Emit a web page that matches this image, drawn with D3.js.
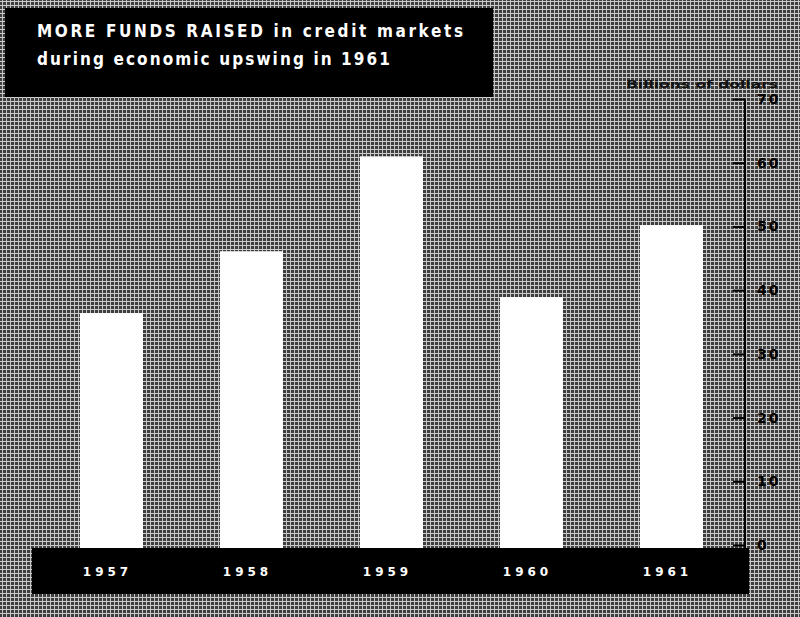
<!DOCTYPE html>
<html><head><meta charset="utf-8">
<script src="https://cdn.jsdelivr.net/npm/d3@7"></script>
<style>body{margin:0;background:#fff}svg{display:block}</style>
</head><body>
<script>
const years = ["1957","1958","1959","1960","1961"];
const funds = [36.4, 46.1, 61.0, 38.9, 50.2];
const yTicks = [0,10,20,30,40,50,60,70];
const titleLines = ["MORE FUNDS RAISED in credit markets", "during economic upswing in 1961"];
const unitLabel = "Billions of dollars";

const W = 800, H = 617;
const svg = d3.select("body").append("svg").attr("width", W).attr("height", H);

// halftone-like background pattern
const defs = svg.append("defs");
const pat = defs.append("pattern").attr("id","ht").attr("width",4).attr("height",4).attr("patternUnits","userSpaceOnUse");
pat.append("rect").attr("width",4).attr("height",4).attr("fill","#3e3e3e");
pat.append("rect").attr("x",0).attr("y",1).attr("width",4).attr("height",1).attr("fill","#cfcfcf");
pat.append("rect").attr("x",2).attr("y",0).attr("width",1).attr("height",4).attr("fill","#c4c4c4");
svg.append("rect").attr("width",W).attr("height",H).attr("fill","url(#ht)");

const x = d3.scaleBand().domain(years).range([38, 745]).paddingInner(0.55).paddingOuter(0.3);
const y = d3.scaleLinear().domain([0,70]).range([545, 99]);

// bars
svg.append("g").selectAll("rect").data(years).join("rect")
  .attr("x", d => x(d)).attr("width", x.bandwidth())
  .attr("y", (d,i) => y(funds[i])).attr("height", (d,i) => 550 - y(funds[i]))
  .attr("fill", "#ffffff");

// right axis
const axis = d3.axisRight(y).tickValues(yTicks).tickSize(0).tickPadding(14).tickFormat(d3.format("d"));
const ag = svg.append("g").attr("transform","translate(745,0)").call(axis);
ag.select(".domain").remove();
ag.append("line").attr("x1",0).attr("x2",0).attr("y1",y(70)).attr("y2",550).attr("stroke","#000").attr("stroke-width",2);
ag.selectAll(".tick").append("line").attr("x1",-12).attr("x2",0).attr("stroke","#000").attr("stroke-width",2);
ag.selectAll(".tick text").attr("fill","#000").attr("font-family","DejaVu Sans, sans-serif")
  .attr("font-size",14).attr("font-weight","bold").attr("letter-spacing",2).attr("text-anchor","start").attr("x",12);

svg.append("text").attr("x",778).attr("y",88).attr("text-anchor","end")
  .attr("font-family","DejaVu Sans, sans-serif").attr("font-size",11).attr("font-weight","bold")
  .attr("fill","#111").attr("textLength",152).attr("lengthAdjust","spacingAndGlyphs").text(unitLabel);

// bottom band
svg.append("rect").attr("x",32).attr("y",548).attr("width",717).attr("height",46).attr("fill","#000");
svg.append("g").selectAll("text").data(years).join("text")
  .attr("x", d => x(d) + x.bandwidth()/2 - 4).attr("y", 576).attr("text-anchor","middle")
  .attr("font-family","DejaVu Sans, sans-serif").attr("font-size",12).attr("font-weight","bold")
  .attr("letter-spacing",4).attr("fill","#fff").text(d => d);

// title box
svg.append("rect").attr("x",5).attr("y",8).attr("width",488).attr("height",89).attr("fill","#000");
const tl = [{t:titleLines[0], y:37, len:426},{t:titleLines[1], y:65, len:353}];
svg.append("g").selectAll("text").data(tl).join("text")
  .attr("x",37).attr("y",d=>d.y).attr("fill","#fff")
  .attr("font-family","DejaVu Sans Condensed, DejaVu Sans, sans-serif").attr("font-size",17).attr("font-weight","bold")
  .attr("textLength",d=>d.len).attr("lengthAdjust","spacing").text(d=>d.t);
</script>
</body></html>
